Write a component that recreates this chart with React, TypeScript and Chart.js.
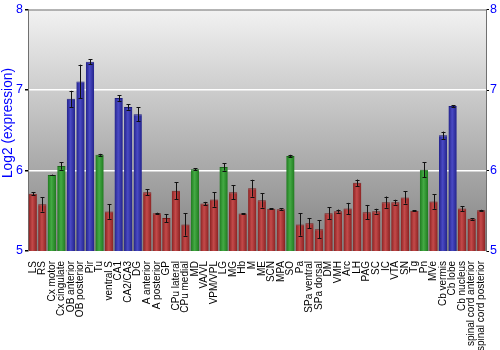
import React, { useEffect, useRef } from "react";
import { Chart, registerables } from "chart.js";

Chart.register(...registerables);

const labels = [
  "LS", "RS", "Cx motor", "Cx cingulate", "OB anterior", "OB posterior", "Pir", "Tu",
  "ventral S", "CA1", "CA2/CA3", "DG", "A anterior", "A posterior", "GP", "CPu lateral",
  "CPu medial", "MD", "VA/VL", "VPM/VPL", "LG", "MG", "Hb", "M", "ME", "SCN", "MPA", "SO",
  "Pa", "SPa ventral", "SPa dorsal", "DM", "VMH", "Arc", "LH", "PAG", "SC", "IC", "VTA",
  "SN", "Tg", "Pn", "MVe", "Cb vermis", "Cb lobe", "Cb nucleus", "spinal cord anterior",
  "spinal cord posterior",
];

const values = [
  5.71, 5.58, 5.945, 6.055, 6.89, 7.105, 7.35, 6.195,
  5.49, 6.9, 6.79, 6.7, 5.73, 5.47, 5.41, 5.75,
  5.33, 6.015, 5.59, 5.64, 6.045, 5.73, 5.466, 5.78, 5.63, 5.525, 5.52, 6.18,
  5.33, 5.345, 5.27, 5.47, 5.495, 5.528, 5.848, 5.482, 5.495, 5.607, 5.607,
  5.665, 5.5, 6.01, 5.615, 6.438, 6.8, 5.528, 5.4,
  5.507,
];

const errors = [
  0.02, 0.09, 0.004, 0.045, 0.1, 0.21, 0.03, 0.012,
  0.09, 0.035, 0.035, 0.085, 0.04, 0.006, 0.05, 0.105,
  0.14, 0.012, 0.02, 0.09, 0.045, 0.09, 0.004, 0.105, 0.09, 0.004, 0.008, 0.015,
  0.14, 0.065, 0.11, 0.075, 0.02, 0.07, 0.04, 0.09, 0.03, 0.07, 0.03,
  0.075, 0.006, 0.095, 0.09, 0.045, 0.01, 0.03, 0.01,
  0.005,
];

// r = red, g = green, b = blue
const groups = [
  "r", "r", "g", "g", "b", "b", "b", "g",
  "r", "b", "b", "b", "r", "r", "r", "r",
  "r", "g", "r", "r", "g", "r", "r", "r", "r", "r", "r", "g",
  "r", "r", "r", "r", "r", "r", "r", "r", "r", "r", "r",
  "r", "r", "g", "r", "b", "b", "r", "r",
  "r",
];

const yTicks = [5, 6, 7, 8];
const yTitle = "Log2 (expression)";

const palette: Record<string, { edge: string; mid: string; border: string }> = {
  r: { edge: "#8a2222", mid: "#c44a4a", border: "#7a1c1c" },
  g: { edge: "#1f7a1f", mid: "#44aa44", border: "#1a661a" },
  b: { edge: "#22228a", mid: "#4a4ac4", border: "#1c1c7a" },
};

const bgPlugin = {
  id: "bgGrad",
  beforeDraw(chart: any) {
    const { ctx, chartArea } = chart;
    if (!chartArea) return;
    const g = ctx.createLinearGradient(0, chartArea.top, 0, chartArea.bottom);
    g.addColorStop(0, "#f2f2f2");
    g.addColorStop(1, "#828282");
    ctx.save();
    ctx.fillStyle = g;
    ctx.fillRect(chartArea.left, chartArea.top, chartArea.right - chartArea.left, chartArea.bottom - chartArea.top);
    ctx.restore();
  },
  afterDraw(chart: any) {
    const { ctx, chartArea } = chart;
    ctx.save();
    ctx.strokeStyle = "#707070";
    ctx.lineWidth = 1;
    ctx.beginPath();
    ctx.moveTo(chartArea.left, chartArea.top + 0.5);
    ctx.lineTo(chartArea.right, chartArea.top + 0.5);
    ctx.stroke();
    // y-axis title
    ctx.fillStyle = "#0000ff";
    ctx.font = "13.75px 'Liberation Sans', Arial, sans-serif";
    ctx.textAlign = "center";
    ctx.textBaseline = "alphabetic";
    ctx.translate(12, 123);
    ctx.rotate(-Math.PI / 2);
    ctx.fillText(yTitle, 0, 0);
    ctx.restore();
  },
};

const errPlugin = {
  id: "errBars",
  afterDatasetsDraw(chart: any) {
    const { ctx } = chart;
    const xs = chart.scales.x;
    const ys = chart.scales.y;
    ctx.save();
    ctx.strokeStyle = "#111";
    ctx.lineWidth = 1;
    values.forEach((v, i) => {
      const e = errors[i];
      const x = Math.round(xs.getPixelForValue(i)) + 0.5;
      const y1 = ys.getPixelForValue(v + e);
      const y2 = ys.getPixelForValue(v - e);
      ctx.beginPath();
      ctx.moveTo(x, y1);
      ctx.lineTo(x, y2);
      ctx.moveTo(x - 2, Math.round(y1) + 0.5);
      ctx.lineTo(x + 2, Math.round(y1) + 0.5);
      ctx.moveTo(x - 2, Math.round(y2) + 0.5);
      ctx.lineTo(x + 2, Math.round(y2) + 0.5);
      ctx.stroke();
    });
    ctx.restore();
  },
};

export default function App() {
  const ref = useRef<HTMLCanvasElement | null>(null);
  useEffect(() => {
    if (!ref.current) return;
    const barFill = (c: any) => {
      const p = palette[groups[c.dataIndex]];
      const chart = c.chart;
      const xs = chart.scales && chart.scales.x;
      if (!xs || !chart.chartArea) return p.mid;
      const x = xs.getPixelForValue(c.dataIndex);
      const w = xs.width / labels.length * 0.87;
      const g = chart.ctx.createLinearGradient(x - w / 2, 0, x + w / 2, 0);
      g.addColorStop(0, p.edge);
      g.addColorStop(0.45, p.mid);
      g.addColorStop(1, p.edge);
      return g;
    };
    const tickFont = { family: "'Liberation Sans', Arial, sans-serif", size: 12.5 };
    const chart = new Chart(ref.current, {
      type: "bar",
      data: {
        labels,
        datasets: [
          {
            data: values.map((v) => [5, v]) as any,
            backgroundColor: barFill as any,
            borderColor: ((c: any) => palette[groups[c.dataIndex]].border) as any,
            borderWidth: { top: 1, left: 0, right: 0, bottom: 0 } as any,
            borderSkipped: false,
            barPercentage: 0.87,
            categoryPercentage: 1,
          },
        ],
      },
      plugins: [bgPlugin, errPlugin],
      options: {
        responsive: false,
        animation: false,
        layout: { padding: { top: 9.5, left: 0, right: 0, bottom: 0 } },
        plugins: { legend: { display: false }, tooltip: { enabled: false } },
        scales: {
          x: {
            type: "category",
            offset: true,
            grid: { display: false },
            border: { display: false },
            ticks: {
              autoSkip: false,
              maxRotation: 90,
              minRotation: 90,
              color: "#000",
              padding: 2,
              font: { family: "'Liberation Sans', Arial, sans-serif", size: 10 },
            },
            afterFit: (s: any) => {
              s.height = 99;
            },
          },
          y: {
            position: "left",
            min: 5,
            max: 8,
            afterBuildTicks: (s: any) => {
              s.ticks = yTicks.map((v) => ({ value: v }));
            },
            grid: {
              color: (c: any) => (c.tick && (c.tick.value === 6 || c.tick.value === 7) ? "#ffffff" : "rgba(0,0,0,0)"),
              tickColor: "#000",
              tickLength: 3,
              lineWidth: 1.5,
            },
            border: { display: true, color: "#707070" },
            ticks: {
              color: "#0000ff",
              padding: 2,
              font: tickFont,
            },
            afterFit: (s: any) => {
              s.width = 28;
            },
          },
          y2: {
            position: "right",
            min: 5,
            max: 8,
            afterBuildTicks: (s: any) => {
              s.ticks = yTicks.map((v) => ({ value: v }));
            },
            grid: { drawOnChartArea: false, tickColor: "#000", tickLength: 3 },
            border: { display: true, color: "#707070" },
            ticks: {
              color: "#0000ff",
              padding: 1,
              font: tickFont,
            },
            afterFit: (s: any) => {
              s.width = 14;
            },
          },
        },
      },
    });
    return () => chart.destroy();
  }, []);
  return (
    <div style={{ position: "fixed", left: 0, top: 0, width: 500, height: 350, background: "#fff" }}>
      <canvas ref={ref} width={500} height={350} />
    </div>
  );
}
